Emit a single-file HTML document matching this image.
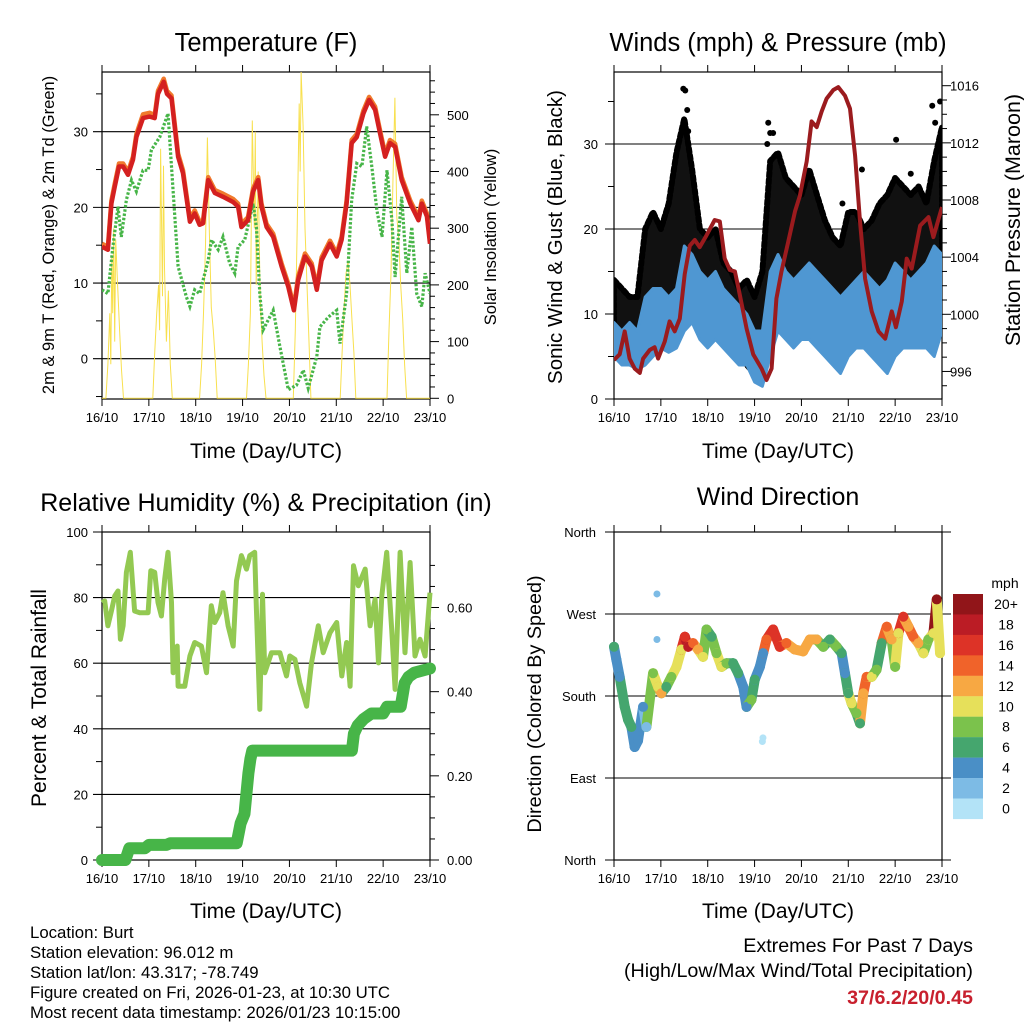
<!DOCTYPE html>
<html><head><meta charset="utf-8"><style>
html,body{margin:0;padding:0;background:#fff;width:1024px;height:1024px;overflow:hidden}
svg text{font-family:"Liberation Sans",sans-serif;fill:#000}
</style></head><body>
<svg id="chart" width="1024" height="1024" viewBox="0 0 1024 1024" xmlns="http://www.w3.org/2000/svg">
<text x="266" y="51" font-size="25.5" text-anchor="middle">Temperature (F)</text>
<text x="778" y="51" font-size="25.5" text-anchor="middle">Winds (mph) &amp; Pressure (mb)</text>
<text x="266" y="511" font-size="25" text-anchor="middle">Relative Humidity (%) &amp; Precipitation (in)</text>
<text x="778" y="505" font-size="25" text-anchor="middle">Wind Direction</text>
<text x="266" y="458" font-size="21" text-anchor="middle">Time (Day/UTC)</text>
<text x="778" y="458" font-size="21" text-anchor="middle">Time (Day/UTC)</text>
<text x="266" y="918" font-size="21" text-anchor="middle">Time (Day/UTC)</text>
<text x="778" y="918" font-size="21" text-anchor="middle">Time (Day/UTC)</text>
<text transform="translate(54,235) rotate(-90)" font-size="16.5" text-anchor="middle">2m &amp; 9m T (Red, Orange) &amp; 2m Td (Green)</text>
<text transform="translate(496,237) rotate(-90)" font-size="16.5" text-anchor="middle">Solar Insolation (Yellow)</text>
<text transform="translate(562,237) rotate(-90)" font-size="20.5" text-anchor="middle">Sonic Wind &amp; Gust (Blue, Black)</text>
<text transform="translate(1020,220) rotate(-90)" font-size="21.5" text-anchor="middle">Station Pressure (Maroon)</text>
<text transform="translate(46,698) rotate(-90)" font-size="21" text-anchor="middle">Percent &amp; Total Rainfall</text>
<text transform="translate(541,704) rotate(-90)" font-size="19.8" text-anchor="middle">Direction (Colored By Speed)</text>
<g font-size="16.8">
<text x="30" y="938">Location: Burt</text>
<text x="30" y="958">Station elevation: 96.012 m</text>
<text x="30" y="978">Station lat/lon: 43.317; -78.749</text>
<text x="30" y="998">Figure created on Fri, 2026-01-23, at 10:30 UTC</text>
<text x="30" y="1018">Most recent data timestamp: 2026/01/23 10:15:00</text>
</g>
<g font-size="19.7" text-anchor="end">
<text x="973" y="952">Extremes For Past 7 Days</text>
<text x="973" y="977">(High/Low/Max Wind/Total Precipitation)</text>
<text x="973" y="1004" font-weight="bold" style="fill:#c8202e">37/6.2/20/0.45</text>
</g>
</svg>
<script>
// ---------- data ----------
const dayLabels = ["16/10","17/10","18/10","19/10","20/10","21/10","22/10","23/10"];
const tempHours = [0,3,4.8,6.5,8.7,10.8,13.3,15.9,17.6,21,24.4,27,28.7,31.6,33.3,35.6,39,41.5,45,47.5,50,51.8,54.4,57.8,62,67.2,69.7,71.4,74.8,77.4,80,81.7,84.3,87.7,92,95.4,98.3,100.5,104,107.4,110,112.5,116.8,120.2,122.7,125.3,127.9,130.5,133.9,136.8,139.9,142.4,145,147.5,150.1,153.5,157.9,162.1,163.8,166.4,168];
const tempValues = [14.8,14.4,20.5,22.7,25.4,25.4,24.3,26.3,29.3,31.8,32,31.8,35,36.6,35,34.4,26.7,24.5,18.1,19.2,17.7,17.9,23.6,21.9,21.4,20.7,20.1,17.4,18.3,22.1,23.6,20.1,17.4,16.1,12.2,9.5,6.4,10.4,13.5,12.2,9.1,13,15.2,13.5,15.7,20.5,28.5,29.3,32.4,34.2,32.9,29.8,26.7,28.5,28,23.6,20.5,18.3,20.5,18.8,15.2];
const temp9mValues = [15.2,14.8,20.9,23.1,25.8,25.8,24.7,26.7,29.7,32.3,32.5,32.2,35.4,37,35.4,34.8,27.1,24.9,18.5,19.6,18.1,18.3,24,22.3,21.8,21.1,20.5,17.8,18.7,22.5,24,20.5,17.8,16.5,12.6,9.9,6.8,10.9,13.9,12.6,9.5,13.4,15.6,13.9,16.1,20.9,28.9,29.7,32.8,34.6,33.3,30.2,27.1,28.9,28.4,24,20.9,18.7,20.9,19.2,15.6];
const dewHours = [0,3,5.6,8.2,9.9,12.5,15.1,17.6,21,23.6,25.3,29.6,33.8,35.6,37.3,39,43.2,45,47.5,50,54.4,56.1,59.5,62,65.4,68,69.7,73.1,77.4,79.1,80.8,82.5,87.7,91.1,95.4,99.6,103.1,105.6,110,111.6,115.9,120.2,121.9,125.3,127.9,130.5,133.1,135.6,138.2,140.8,143.4,146,148.5,150.1,153.5,156.1,158.7,161.2,163.8,165.5,168];
const dewValues = [9.1,8.6,14.8,20.1,16.1,21,23.6,22.1,24.9,24.9,27.6,29.3,32.4,25.4,18.8,12.2,8.2,6.9,9.1,8.6,13,15.7,14.4,16.1,12.6,11.3,14.8,15.7,20.5,17.4,8.6,3.8,6.4,1.6,-4.1,-3.5,-1.5,-3.9,0.3,4.2,5.5,6.4,2,8.6,21,25.8,25.4,30.7,25.4,19.6,16.1,24.9,18.3,10.8,21.4,11.3,17.4,8.6,6.9,11.3,8.6];
const solarHours = [0,2,3,4,4.5,5,5.5,6,6.5,7,8,9,10,11,26,27,28,29,29.5,30,31,31.5,32,33,34,35,36,50,51,52,53,54,55,56,57,58,59,74,75,76,77,78,78.5,79,80,81,82,83,84,98,99,100,101,101.5,102,103,104,105,106,107,122,123,124,125,126,127,128,129,130,146,147,148,149,150,151,152,153,154,155,156,168];
const solarValues = [0,0,60,150,60,250,150,300,100,280,200,120,50,0,0,80,150,200,120,440,180,410,230,100,190,60,0,0,60,150,270,460,290,160,120,70,0,0,60,150,490,300,470,200,400,180,100,40,0,0,120,300,520,400,576,480,300,200,100,0,0,80,160,220,240,200,140,80,0,0,120,220,380,530,320,280,200,140,60,0,0];
const pressHours = [0,2.9,5.5,8,10.6,13.2,14.9,18.3,20.8,22.6,26,28.5,31.1,33.7,36.2,38.8,41.4,43.9,47.3,51.6,54.2,56.7,59.3,61.9,64.4,67.9,71.3,75.6,78.1,80.7,83.2,85.8,89.3,92.7,95.2,98.7,101.2,103.8,106.4,108.9,112.3,114.9,118.3,120.9,123.5,126,128.6,132,135.5,138.9,142.3,144.4,147.4,149.9,152.5,156.8,161.1,163.6,168];
const pressValues = [996.8,997.2,998.8,996.9,996.2,995.9,996.9,997.5,997.7,996.9,998.1,999.5,998.8,999.7,1002.8,1004.8,1005.2,1004.7,1005.5,1006.6,1006.5,1003.9,1003.1,1003,1001.4,999,997.2,996.2,995.4,996.2,1001.1,1003,1005.1,1007.2,1008.3,1010.7,1013.5,1013.1,1014.2,1015.1,1015.7,1015.9,1015.3,1014.4,1011.1,1006.5,1002.5,1000.2,998.8,998.3,1000.2,999.1,1000.9,1003.9,1003.2,1006.2,1006.8,1005.4,1007.5];
const windHours = [0,4,8,12,16,20,24,28,32,36,40,44,48,52,56,60,64,68,72,76,80,84,88,92,96,100,104,108,112,116,120,124,128,132,136,140,144,148,152,156,160,164,168];
const windLow = [5,4,4,3.5,4,5,6,5.5,6,8,9,7,6,7,6,5,4,4,2,1.5,5,8,7,6,7,7,6,5,4,3,5,6,6,5,4,3,5,6,6,6,6,5,8];
const windHigh = [9,8,9,8,12,13,13,12,13,18,17,15,14,15,13,12,11,10,8,8,15,17,15,14,15,16,15,14,13,12,13,14,15,14,13,14,16,15,14,15,16,18,17];
const gustLow = [7,6,6,5,8,10,10,10,12,14,12,10,10,10,9,7,5,4,3,5,12,15,14,13,12,11,11,10,9,8,10,12,10,9,8,9,12,12,12,11,10,12,15];
const gustHigh = [14,13,12,12,20,22,20,23,29,33,27,20,19,20,16,15,13,14,12,15,28,29,26,25,24,27,24,21,19,18,22,22,20,21,23,24,26,25,24,25,23,28,32];
const gustPeakHours = [35.5,36.5,37.5,36,38,79,80,81.5,78.5,127,117,163,164.5,167,144.5,152];
const gustPeakValues = [36.5,36.3,34,32,31.5,32.5,31.3,31.3,30,27,23,34.5,32.5,35,30.5,26.5];
const rhHours = [0,1.4,3,4.8,6.5,8.2,9.4,10.8,12.5,14.5,16.7,19.3,23.6,25,27,28.7,30.4,32.1,33.8,35.6,36.4,38.5,39,42.4,45,47.5,50.9,53.5,56,57.7,60.3,62,64.6,67.2,68.9,71.4,74,75.7,78.2,79.1,80.8,82.2,83.4,86.8,91.1,94.5,96.2,98.8,101.3,104.8,107.3,110.8,113.3,116.8,120.2,122.8,125.3,127.1,128.8,131.3,134.8,137.3,139.9,141.6,143.3,145.8,148.4,150.1,152.7,155.2,157.8,160.3,162.9,165.5,168];
const rhValues = [78.5,79,71.4,75.9,80.5,82,67.3,71.4,87.7,93.8,75.9,75.4,75.4,88.2,87.7,78.5,74.4,85.6,93.8,78.5,57.1,65.2,53,53,62.2,66.3,65.2,57.1,77.5,72.4,75.4,81.5,71.4,65.2,85.1,92.8,88.7,92.8,93.8,76.5,45.9,81,57.1,63.2,63.2,56.1,62.2,61.2,54,46.9,60.1,71.4,63.2,69.3,72.4,56.1,66.3,53,89.7,83.6,88.7,71.4,79.5,60.1,80.5,93.8,70.3,52,93.8,63.2,90.7,62.2,67.3,62.2,81.5];
const precipHours = [0,12,14,22,24,33,35,69,71,73,75,76,77,128,129,131,134,138,144,146,153,155,157,160,168];
const precipValues = [0,0,0.028,0.028,0.036,0.036,0.04,0.04,0.087,0.11,0.206,0.24,0.26,0.26,0.30,0.32,0.335,0.348,0.348,0.364,0.364,0.42,0.435,0.445,0.455];
const dirHours = [0,1.2,2.9,5.5,7.2,8.9,10.6,12.3,14.9,16.6,20,22.6,24.3,26.8,29.4,32,34.5,36.3,38,40.5,43.1,45.6,47.4,50,52.5,55.1,57.6,61,63.6,66.2,67.9,70.4,72.1,74.7,76.4,78.1,81.5,84.9,88.3,92.6,96.9,100.3,103.8,107.2,110.6,114,116.6,118.3,120,121.7,124.2,126,127.7,129.4,132,134.5,137.1,139.7,142.2,144,145.7,148.2,150.8,153.3,155.9,158.5,161,163.6,165.3,167];
const dirValues = [234,220,201,168,154,146,124,131,168,146,205,190,183,190,201,212,231,245,234,238,231,223,253,245,227,212,216,216,205,190,168,176,198,212,227,242,253,234,238,231,229,242,242,234,242,234,227,205,183,172,161,150,183,201,201,209,238,256,242,212,249,267,256,245,238,227,242,249,286,227];
const dirSpeeds = [6,5,4,6,6,7,4,5,4,3,8,10,12,7,9,10,11,16,19,15,13,10,8,7,9,10,8,6,6,5,4,8,6,5,4,14,17,16,14,12,13,13,12,9,7,8,6,4,6,10,9,7,12,14,10,8,6,14,12,9,10,16,12,14,12,10,8,10,20,10];
const dirOutlierHours = [22,22,76,76.3];
const dirOutlierValues = [292,242,130,134];
const dirOutlierSpeeds = [2,2,1,1];
const speedLabels = ["20+","18","16","14","12","10","8","6","4","2","0"];
const speedColors = ["#911519","#bb1c25","#dd3327","#f0632a","#f7a843","#e6e05a","#7bc24c","#45a66e","#4a8fc6","#7dbbe5","#b3e3f7"];

// ---------- helpers ----------
const NS = "http://www.w3.org/2000/svg";
const svg = document.getElementById("chart");
function mk(tag, attrs, parent) {
  const e = document.createElementNS(NS, tag);
  for (const k in attrs) e.setAttribute(k, attrs[k]);
  (parent || svg).appendChild(e);
  return e;
}
function txt(s, attrs, parent) { const e = mk("text", attrs, parent); e.textContent = s; return e; }
function lin(d0, d1, r0, r1) { return v => r0 + (v - d0) * (r1 - r0) / (d1 - d0); }
function pathFrom(xs, ys, fx, fy) { return xs.map((h, i) => (i ? "L" : "M") + fx(h).toFixed(1) + "," + fy(ys[i]).toFixed(1)).join(""); }
function speedColor(s) { const i = Math.min(10, Math.floor(s / 2)); return speedColors[10 - i]; }

function frame(x0, x1, y0, y1, name) {
  const g = mk("g", {});
  
  
  mk("rect", { x: x0, y: y0, width: x1 - x0, height: y1 - y0, fill: "none", stroke: "#000", "stroke-width": 1.2 }, g);
  const fx = lin(0, 168, x0, x1);
  for (let d = 0; d < dayLabels.length; d++) {
    const x = fx(d * 24);
    mk("line", { x1: x, x2: x, y1: y0, y2: y0 - 7, stroke: "#000" }, g);
    mk("line", { x1: x, x2: x, y1: y1, y2: y1 + 7, stroke: "#000" }, g);
    const t = txt(dayLabels[d], { x: x, y: y1 + 23, "font-size": 13, "text-anchor": "middle" }, g);
    
    
  }
  return { g, fx };
}
function hgrid(g, x0, x1, y) { mk("line", { x1: x0 - 9, x2: x1, y1: y, y2: y, stroke: "#000", "stroke-width": 1.1 }, g); }

// ---------- Panel 1: temperature ----------
(function () {
  const X0 = 102, X1 = 430, Y0 = 72, Y1 = 399;
  const { g, fx } = frame(X0, X1, Y0, Y1, "temperature");
  const fy = lin(0, 30, 358.7, 131.7);
  const fs = lin(0, 500, 398.3, 114.8);
  const clip = mk("clipPath", { id: "c1" }); mk("rect", { x: X0, y: Y0, width: X1 - X0, height: Y1 - Y0 }, clip);
  for (let v = -5; v <= 35; v += 5) {
    const y = fy(v); if (y < Y0 || y > Y1) continue;
    if (v % 10 === 0) { hgrid(g, X0, X1, y); txt(String(v), { x: 88, y: y + 5, "font-size": 13, "text-anchor": "end" }, g); }
    else mk("line", { x1: X0 - 6, x2: X0, y1: y, y2: y, stroke: "#000" }, g);
  }
  for (let v = 0; v <= 560; v += 20) {
    const y = fs(v); if (y < Y0) continue;
    mk("line", { x1: X1, x2: X1 + (v % 100 === 0 ? 9 : 5), y1: y, y2: y, stroke: "#000" }, g);
    if (v % 100 === 0) txt(String(v), { x: 447, y: y + 5, "font-size": 13 }, g);
  }
  const gp = mk("g", { "clip-path": "url(#c1)" });
  const sol = mk("path", { d: pathFrom(solarHours, solarValues, fx, fs), fill: "none", stroke: "#f8e04e", "stroke-width": 1 }, gp);
  
  
  const dew = mk("path", { d: pathFrom(dewHours, dewValues, fx, fy), fill: "none", stroke: "#47b548", "stroke-width": 3.2, "stroke-dasharray": "2.5 1.8" }, gp);
  
  
  const t9 = mk("path", { d: pathFrom(tempHours, temp9mValues, fx, fy), fill: "none", stroke: "#f07a2c", "stroke-width": 4.5, "stroke-linejoin": "round" }, gp);
  
  
  const t2 = mk("path", { d: pathFrom(tempHours, tempValues, fx, fy), fill: "none", stroke: "#d42020", "stroke-width": 4.5, "stroke-linejoin": "round" }, gp);
  
  
})();

// ---------- Panel 2: winds ----------
(function () {
  const X0 = 614, X1 = 942, Y0 = 72, Y1 = 399;
  const { g, fx } = frame(X0, X1, Y0, Y1, "winds");
  const fy = lin(0, 30, 399, 144);
  const fp = lin(1000, 1016, 314.3, 85.7);
  const clip = mk("clipPath", { id: "c2" }); mk("rect", { x: X0, y: Y0, width: X1 - X0, height: Y1 - Y0 }, clip);
  for (let v = 0; v <= 35; v += 5) {
    const y = fy(v);
    if (v % 10 === 0) { if (v > 0) hgrid(g, X0, X1, y); else mk("line", { x1: X0 - 9, x2: X0, y1: y, y2: y, stroke: "#000" }, g); txt(String(v), { x: 598, y: y + 5, "font-size": 13, "text-anchor": "end" }, g); }
    else mk("line", { x1: X0 - 6, x2: X0, y1: y, y2: y, stroke: "#000" }, g);
  }
  for (let v = 995; v <= 1017; v++) {
    const y = fp(v); if (y < Y0 || y > Y1) continue;
    mk("line", { x1: X1, x2: X1 + (v % 4 === 0 ? 9 : 5), y1: y, y2: y, stroke: "#000" }, g);
    if (v % 4 === 0) txt(String(v), { x: 950, y: y + 5, "font-size": 13 }, g);
  }
  const gp = mk("g", { "clip-path": "url(#c2)" });
  let d = pathFrom(windHours, gustHigh, fx, fy) + pathFrom(windHours.slice().reverse(), gustLow.slice().reverse(), fx, fy).replace("M", "L") + "Z";
  const gb = mk("path", { d: d, fill: "#111", stroke: "#000", "stroke-width": 6, "stroke-linejoin": "round", "stroke-dasharray": "4 3", "stroke-linecap": "round" }, gp);
  
  
  gustPeakHours.forEach((h, i) => {
    const c = mk("circle", { cx: fx(h), cy: fy(gustPeakValues[i]), r: 3, fill: "#000" }, gp);
    
    
  });
  d = pathFrom(windHours, windHigh, fx, fy) + pathFrom(windHours.slice().reverse(), windLow.slice().reverse(), fx, fy).replace("M", "L") + "Z";
  const wb = mk("path", { d: d, fill: "#4f97d2", stroke: "#4f97d2", "stroke-width": 3, "stroke-linejoin": "round" }, gp);
  
  
  const pl = mk("path", { d: pathFrom(pressHours, pressValues, fx, fp), fill: "none", stroke: "#9b1b1e", "stroke-width": 4, "stroke-linejoin": "round" }, gp);
  
  
})();

// ---------- Panel 3: humidity & precip ----------
(function () {
  const X0 = 102, X1 = 430, Y0 = 532, Y1 = 860;
  const { g, fx } = frame(X0, X1, Y0, Y1, "humidity");
  const fy = lin(0, 100, 860, 532);
  const fr = lin(0, 0.6, 860, 607.5);
  const clip = mk("clipPath", { id: "c3" }); mk("rect", { x: X0 - 8, y: Y0, width: X1 - X0 + 16, height: Y1 - Y0 + 8 }, clip);
  for (let v = 0; v <= 100; v += 10) {
    const y = fy(v);
    if (v % 20 === 0) { if (v > 0 && v < 100) hgrid(g, X0, X1, y); else mk("line", { x1: X0 - 9, x2: X0, y1: y, y2: y, stroke: "#000" }, g); txt(String(v), { x: 88, y: y + 5, "font-size": 13, "text-anchor": "end" }, g); }
    else mk("line", { x1: X0 - 6, x2: X0, y1: y, y2: y, stroke: "#000" }, g);
  }
  for (let v = 0; v <= 0.7001; v += 0.05) {
    const y = fr(v); if (y < Y0) continue;
    const major = Math.abs(v * 10 - Math.round(v * 10)) < 0.01 && Math.round(v * 10) % 2 === 0;
    mk("line", { x1: X1, x2: X1 + (major ? 9 : 5), y1: y, y2: y, stroke: "#000" }, g);
    if (major) txt(v.toFixed(2), { x: 447, y: y + 5, "font-size": 13 }, g);
  }
  const gp = mk("g", { "clip-path": "url(#c3)" });
  const rh = mk("path", { d: pathFrom(rhHours, rhValues, fx, fy), fill: "none", stroke: "#93c952", "stroke-width": 5, "stroke-linejoin": "round" }, gp);
  
  
  const pr = mk("path", { d: pathFrom(precipHours, precipValues, fx, fr), fill: "none", stroke: "#47b548", "stroke-width": 12, "stroke-linejoin": "round", "stroke-linecap": "round" }, gp);
  
  
})();

// ---------- Panel 4: wind direction ----------
(function () {
  const X0 = 614, X1 = 942, Y0 = 532, Y1 = 860;
  const { g, fx } = frame(X0, X1, Y0, Y1, "direction");
  const fy = lin(0, 360, 860, 532);
  const names = ["North", "East", "South", "West", "North"];
  for (let i = 0; i < 5; i++) {
    const y = fy(i * 90);
    mk("line", { x1: X0 - 9, x2: X1 + 9, y1: y, y2: y, stroke: "#000", "stroke-width": 1.1 }, g);
    txt(names[i], { x: 596, y: y + 5, "font-size": 13, "text-anchor": "end" }, g);
  }
  const gp = mk("g", {});
  for (let i = 1; i < dirHours.length; i++) {
    const s = mk("line", { x1: fx(dirHours[i - 1]), y1: fy(dirValues[i - 1]), x2: fx(dirHours[i]), y2: fy(dirValues[i]), stroke: speedColor(dirSpeeds[i]), "stroke-width": 10, "stroke-linecap": "round" }, gp);
    
    
  }
  dirHours.forEach((h, i) => {
    const c = mk("circle", { cx: fx(h), cy: fy(dirValues[i]), r: 5, fill: speedColor(dirSpeeds[i]) }, gp);
    
    
  });
  dirOutlierHours.forEach((h, i) => {
    const c = mk("circle", { cx: fx(h), cy: fy(dirOutlierValues[i]), r: 3.5, fill: speedColor(dirOutlierSpeeds[i]) }, gp);
    
    
  });
  const lg = mk("g", {});
  
  
  txt("mph", { x: 1005, y: 588, "font-size": 14, "text-anchor": "middle" }, lg);
  speedLabels.forEach((lab, i) => {
    const y = 594 + i * 20.45;
    const r = mk("rect", { x: 953, y: y, width: 30, height: 20.6, fill: speedColors[i] }, lg);
    
    
    txt(lab, { x: 1006, y: y + 15, "font-size": 14, "text-anchor": "middle" }, lg);
  });
})();
</script>
</body></html>
